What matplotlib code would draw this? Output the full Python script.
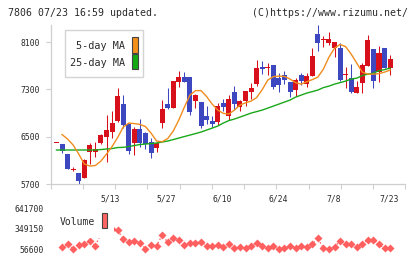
import numpy as np
import matplotlib
matplotlib.use("Agg")
import matplotlib.pyplot as plt
from matplotlib.patches import Rectangle

plt.rcParams['font.family'] = ['DejaVu Sans Mono', 'DejaVu Sans']

# daily candles 4/24 .. 7/23
opens = [6390, 6376, 6207, 5945, 5881, 5806, 6246, 6246, 6388, 6489,
         6579, 6770, 7052, 6714, 6388, 6630, 6567, 6405, 6313, 6736,
         7052, 6990, 7430, 7508, 7508, 7108, 7090, 6849, 6770, 6753,
         7074, 6849, 7260, 7006, 7102, 7260, 7390, 7683, 7660, 7711,
         7486, 7542, 7429, 7289, 7542, 7390, 7525, 8235, 8140, 8088,
         7993, 7993, 7550, 7496, 7233, 7402, 7699, 7982, 7588, 7993, 7666]
closes = [6395, 6263, 5948, 5950, 5756, 6106, 6354, 6297, 6523, 6613,
          6731, 7187, 6703, 6258, 6630, 6398, 6376, 6219, 6398, 6967,
          6990, 7441, 7508, 7430, 6922, 7204, 6686, 6782, 6714, 7018,
          7001, 7136, 7052, 7102, 7272, 7328, 7666, 7644, 7670, 7344,
          7373, 7458, 7260, 7458, 7440, 7525, 7863, 8088, 8150, 8151,
          8095, 7458, 7558, 7260, 7344, 7711, 8134, 7446, 7914, 7666, 7812]
highs = [6395, 6380, 6207, 5982, 5881, 6120, 6400, 6410, 6540, 6870,
         6934, 7322, 7213, 6714, 6663, 6799, 6580, 6478, 6410, 7120,
         7317, 7450, 7615, 7590, 7508, 7220, 7090, 7018, 6849, 7063,
         7136, 7204, 7356, 7120, 7272, 7412, 7796, 7779, 7750, 7711,
         7571, 7610, 7429, 7496, 7571, 7581, 7993, 8387, 8201, 8274,
         8095, 8078, 7682, 7728, 7441, 7740, 8218, 7982, 8027, 7993, 7880]
lows = [6390, 6219, 5948, 5915, 5705, 5795, 6040, 6150, 6370, 6077,
        6477, 6748, 6646, 6216, 6190, 6320, 6291, 6145, 6245, 6652,
        6962, 6980, 7348, 7420, 6866, 6990, 6652, 6714, 6658, 6697,
        6930, 6782, 6951, 6934, 7018, 7131, 7356, 7554, 7537, 7310,
        7260, 7390, 7175, 7187, 7373, 7344, 7525, 7948, 8020, 8049,
        7851, 7440, 7317, 7233, 7233, 7233, 7699, 7317, 7418, 7666, 7542]

ma5 = [np.nan, 6537, 6460, 6359, 6207, 6038, 6004, 6013, 6089, 6207,
       6334, 6486, 6663, 6731, 6722, 6709, 6672, 6562, 6427, 6415,
       6469, 6596, 6782, 7001, 7204, 7280, 7280, 7179, 7052, 6951,
       6895, 6883, 6951, 7035, 7074, 7103, 7162, 7297, 7458, 7517,
       7525, 7520, 7475, 7415, 7390, 7429, 7466, 7508, 7644, 7846,
       7998, 8061, 8024, 7897, 7745, 7593, 7559, 7559, 7567, 7593, 7627]
ma25 = [6275, 6275, 6275, 6275, 6275, 6275, 6275, 6275, 6283, 6292,
        6300, 6317, 6320, 6334, 6351, 6368, 6376, 6384, 6393, 6410,
        6427, 6452, 6477, 6503, 6528, 6553, 6579, 6613, 6646, 6680,
        6731, 6773, 6799, 6832, 6866, 6900, 6925, 6951, 6984, 7018,
        7052, 7086, 7120, 7170, 7204, 7238, 7263, 7289, 7331, 7356,
        7390, 7415, 7441, 7475, 7491, 7534, 7559, 7576, 7618, 7635, 7660]

volume = [np.nan, 82300, 129400, 63700, 118000, 129400, 172200, 103700, 289200, 641700,
          346300, 332000, 199300, 156500, 170800, 149400, 65200, 113700, 103700, 260700,
          156500, 217900, 189300, 118000, 142200, 142200, 165100, 100800, 99400, 118000,
          89400, 135100, 70900, 89400, 70900, 108000, 150800, 103700, 70900, 103700,
          56600, 70900, 108000, 70900, 99400, 89400, 132200, 217900, 70900, 56600,
          89400, 179300, 132200, 132200, 89400, 132200, 189300, 189300, 128000, 70900, 79400]

date_labels = ['5/13', '5/27', '6/10', '6/24', '7/8', '7/23']
date_label_pos = [9.7, 19.7, 29.9, 39.9, 49.9, 59.9]
price_ticks = [5700, 6500, 7300, 8100]
vol_ticks = [56600, 349150, 641700]

UP = '#d7101c'
DOWN = '#3d47bf'
ORANGE = '#f08c1e'
GREEN = '#1aa81a'
VOLC = '#ff5f5f'
GRID = '#cfcfcf'
TXT = '#2a2a2a'

W, H = 420, 259
fig = plt.figure(figsize=(W / 100, H / 100), dpi=100)


def fig_rect(x0, y0, x1, y1, **kw):
    return Rectangle((x0 / W, 1 - y1 / H), (x1 - x0) / W, (y1 - y0) / H,
                     transform=fig.transFigure, **kw)


xlim = (-1.04, 62.73)
x = np.arange(len(closes))
o = np.array(opens)
c = np.array(closes)
cols = [UP if cc >= oo else DOWN for oo, cc in zip(o, c)]

# price panel
ax = fig.add_axes([50.7 / W, 1 - 184 / H, (405.3 - 50.7) / W, (184 - 25) / H])
ax.vlines(x, lows, highs, colors=cols, linewidth=0.75, zorder=2)
ax.bar(x, np.maximum(np.abs(c - o), 14), bottom=np.minimum(o, c), width=0.9,
       color=cols, linewidth=0, zorder=3)
ax.plot(x, ma25, color=GREEN, lw=1.0, zorder=4)
ax.plot(x, ma5, color=ORANGE, lw=1.0, zorder=4)

ax.set_xlim(*xlim)
ax.set_ylim(5700, 8390)
ax.set_yticks(price_ticks)
ax.set_yticklabels([str(p) for p in price_ticks])
ax.set_xticks(np.linspace(xlim[0], xlim[1], 12))
ax.set_xticklabels([])
ax.set_xticks(date_label_pos, minor=True)
ax.set_xticklabels(date_labels, minor=True)
ax.tick_params(axis='x', which='major', length=3.6, width=0.8, color=GRID)
ax.tick_params(axis='x', which='minor', length=0, pad=7.4, labelsize=5.8, labelcolor=TXT)
ax.tick_params(axis='y', length=3.6, width=0.8, color=GRID, pad=4.0, labelsize=5.8, labelcolor=TXT)
for s in ['top', 'right']:
    ax.spines[s].set_visible(False)
for s in ['left', 'bottom']:
    ax.spines[s].set_color(GRID)
    ax.spines[s].set_linewidth(0.9)
ax.patch.set_alpha(0)

# volume panel
axv = fig.add_axes([50.7 / W, 1 - 249.3 / H, (405.3 - 50.7) / W, 41 / H])
axv.plot(x, volume, ls=':', lw=1.0, color=VOLC, marker='D', ms=3.6,
         mec='none', clip_on=False)
axv.set_xlim(*xlim)
axv.set_ylim(56600, 641700)
axv.set_yticks(vol_ticks)
axv.set_yticklabels([str(v) for v in vol_ticks])
axv.set_xticks([])
axv.tick_params(axis='y', length=0, pad=4.8, labelsize=5.8, labelcolor=TXT)
for s in axv.spines.values():
    s.set_visible(False)
axv.patch.set_alpha(0)

# legends
fig.add_artist(fig_rect(65, 30, 143.3, 77.3, fc='white', ec='#d4d4d4', lw=1.0, zorder=10))
fig.text(125 / W, 1 - 46 / H, '5-day MA', ha='right', va='center', fontsize=7.3, color=TXT, zorder=11)
fig.text(125 / W, 1 - 63.3 / H, '25-day MA', ha='right', va='center', fontsize=7.3, color=TXT, zorder=11)
fig.add_artist(fig_rect(131.7, 37.3, 137.7, 52.7, fc='#f39019', ec='#444444', lw=0.8, zorder=11))
fig.add_artist(fig_rect(131.7, 54.3, 137.7, 69.3, fc='#14aa14', ec='#444444', lw=0.8, zorder=11))

fig.add_artist(fig_rect(53, 204, 113.5, 238, fc='white', ec='none', zorder=10))
fig.text(59.3 / W, 1 - 222.3 / H, 'Volume', ha='left', va='center', fontsize=7, color=TXT, zorder=11)
fig.add_artist(fig_rect(101.7, 212.7, 107.3, 228.3, fc='#ff6464', ec='#444444', lw=0.8, zorder=11))

# header
fig.text(8 / W, 1 - 13.3 / H, '7806 07/23 16:59 updated.', ha='left', va='center',
         fontsize=7.1, color=TXT)
fig.text(408.5 / W, 1 - 13.3 / H, '(C)https://www.rizumu.net/', ha='right', va='center',
         fontsize=7.1, color=TXT)

fig.savefig('out.png', dpi=100)
